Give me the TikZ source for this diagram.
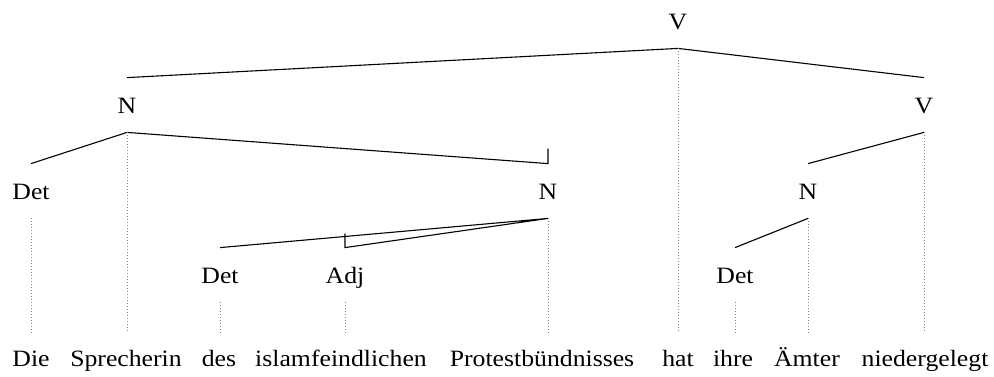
\documentclass[tikz,border=0pt]{standalone}
\usepackage{fontspec}
\setmainfont[FakeStretch=1.1]{Liberation Serif}
\usepackage{tikz}
\tikzset{
  cat/.style={anchor=base, inner xsep=0pt, inner ysep=9.5pt, text height=8pt, text depth=0pt},
  word/.style={anchor=base, inner xsep=0pt, inner ysep=8.5pt, text height=8pt, text depth=0pt},
  edge/.style={black, line width=0.55pt},
  dotline/.style={gray, line width=0.45pt, dash pattern=on 0.45pt off 1.05pt}
}

\begin{document}
\begin{tikzpicture}[x=0.5pt, y=-0.5pt, font=\fontsize{11.7}{14}\selectfont]
\useasboundingbox (0,0) rectangle (994,376);
% categories
\node[cat] (Vtop)  at (678,29)  {V};
\node[cat] (Nsubj) at (127,113) {N};
\node[cat] (Vrest) at (924,113) {V};
\node[cat] (Det1)  at (31,199)  {Det};
\node[cat] (Nprot) at (548,199) {N};
\node[cat] (Nobj)  at (808,199) {N};
\node[cat] (Det2)  at (220,283) {Det};
\node[cat] (Adj)   at (345,283) {Adj};
\node[cat] (Det3)  at (735,283) {Det};
% words
\foreach \x/\n/\t in {31/wDie/Die, 126/wSprecherin/Sprecherin, 219/wdes/des,
  341/wislam/islamfeindlichen, 542/wprotest/Protestbündnisses, 678/what/hat,
  733/wihre/ihre, 807/waemter/Ämter, 925/wnieder/niedergelegt} {
  \node[word] (\n) at (\x,366) {\t};
}
% dependencies
\draw[edge] (Nsubj.north) -- (Vtop.south) -- (Vrest.north);
\draw[edge] (Det1.north) -- (Nsubj.south) -- (Nprot.north) --++(0,-15);
\draw[edge] (Det2.north) -- (Nprot.south) -- (Adj.north) --++(0,-14);
\draw[edge] (Vrest.south) -- (Nobj.north);
\draw[edge] (Nobj.south) -- (Det3.north);
% projections
\foreach \a/\b in {Vtop/what, Nsubj/wSprecherin, Vrest/wnieder, Det1/wDie,
  Nprot/wprotest, Nobj/waemter, Det2/wdes, Adj/wislam, Det3/wihre} {
  \draw[dotline] (\a.south) -- (\a.south |- \b.north);
}
\end{tikzpicture}
\end{document}
